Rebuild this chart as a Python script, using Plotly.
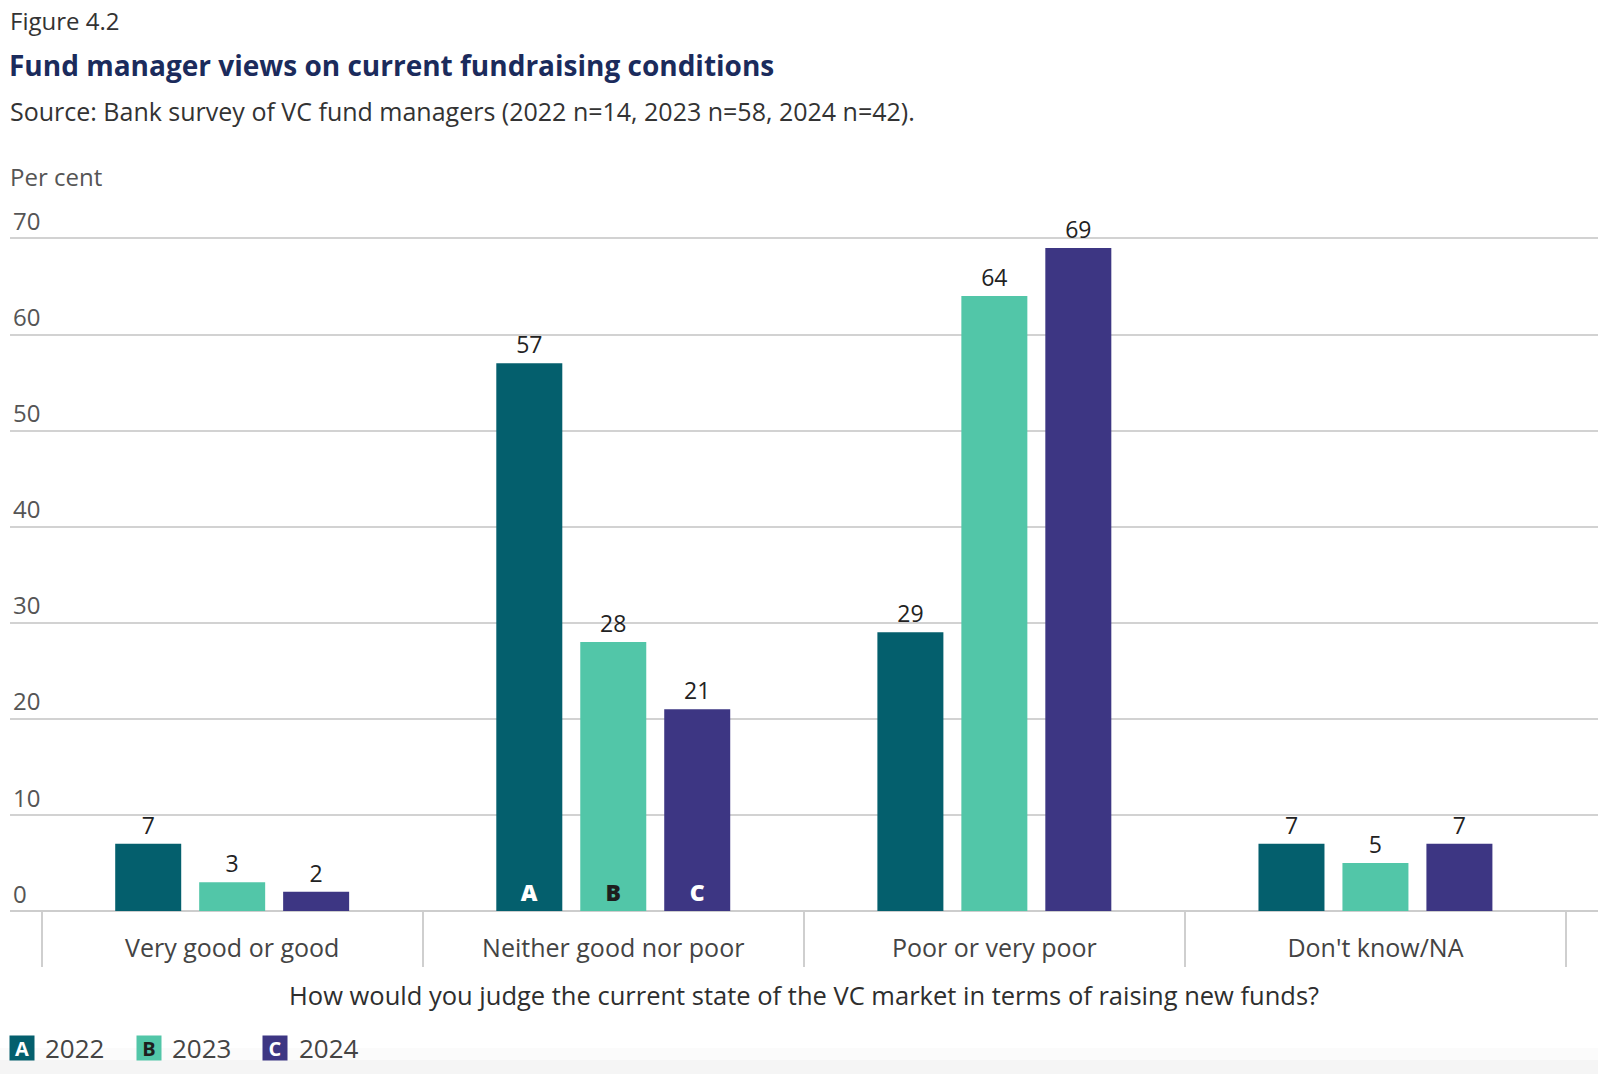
import plotly.graph_objects as go

categories = ["Very good or good", "Neither good nor poor", "Poor or very poor", "Don't know/NA"]
years = ["2022", "2023", "2024"]
v2022 = [7, 57, 29, 7]
v2023 = [3, 28, 64, 5]
v2024 = [2, 21, 69, 7]
letters = ["A", "B", "C"]
letter_category = "Neither good nor poor"
y_ticks = [0, 10, 20, 30, 40, 50, 60, 70]

colors = ["#045F6D", "#52C6A8", "#3D3683"]
letter_colors = ["#FFFFFF", "#1E1E1E", "#FFFFFF"]
FONT = "Open Sans"
W, H = 1598, 1074
YMAX = 74
PL, PR, PB = 10, 1598, 911
PT = PB - YMAX * 9.614  # plot top in pixels (70 gridline at ~238)


def py(y):
    return (PB - y) / (PB - PT)


def px(x):
    return (x - PL) / (PR - PL)


fig = go.Figure()
series = [v2022, v2023, v2024]
for i, (yr, vals) in enumerate(zip(years, series)):
    fig.add_trace(go.Bar(
        x=categories, y=vals, name=yr, offsetgroup=str(i),
        marker=dict(color=colors[i], line=dict(width=0)),
        text=[str(v) for v in vals], textposition="outside",
        textfont=dict(family=FONT, size=23, color="#222222", weight=500),
        cliponaxis=False, showlegend=False, hoverinfo="skip",
    ))
# letter markers inside the bars of one category
for i, (yr, vals) in enumerate(zip(years, series)):
    fig.add_trace(go.Bar(
        x=categories, y=vals, offsetgroup=str(i),
        marker=dict(color="rgba(0,0,0,0)", line=dict(width=0)),
        text=[letters[i] if c == letter_category else "" for c in categories],
        textposition="inside", insidetextanchor="start", textangle=0,
        textfont=dict(family=FONT, size=23, color=letter_colors[i], weight=800),
        showlegend=False, hoverinfo="skip",
    ))

fig.update_layout(
    width=W, height=H, barmode="group", bargap=0.339, bargroupgap=0.214,
    plot_bgcolor="white", paper_bgcolor="white",
    margin=dict(l=PL, r=W - PR, t=PT, b=H - PB, pad=0),
    font=dict(family=FONT, color="#444444"),
)
fig.update_xaxes(
    range=[-0.583, 3.584], showgrid=False, zeroline=False, showline=False,
    ticks="outside", tickson="boundaries", ticklen=55, tickwidth=1.5, tickcolor="#CFCFCF",
    ticklabelstandoff=20,
    tickfont=dict(family=FONT, size=25, color="#444444"),
)
fig.update_yaxes(
    range=[0, YMAX], tickvals=y_ticks, ticktext=[str(t) for t in y_ticks],
    showgrid=True, gridcolor="#D2D2D2", gridwidth=1.5,
    zeroline=True, zerolinecolor="#CDCDCD", zerolinewidth=1.5,
    showline=False, ticks="", ticklabelposition="inside top",
    tickfont=dict(family=FONT, size=24, color="#555555"),
)

ann = []
ann.append(dict(text="Figure 4.2", x=px(8), y=py(20), xanchor="left", yanchor="middle",
                font=dict(family=FONT, size=24, color="#333333")))
ann.append(dict(text="<b>Fund manager views on current fundraising conditions</b>", x=px(7), y=py(64),
                xanchor="left", yanchor="middle", font=dict(family=FONT, size=28, color="#1B2B5C")))
ann.append(dict(text="Source: Bank survey of VC fund managers (2022 n=14, 2023 n=58, 2024 n=42).",
                x=px(8), y=py(111), xanchor="left", yanchor="middle",
                font=dict(family=FONT, size=25, color="#333333")))
ann.append(dict(text="Per cent", x=px(8), y=py(176), xanchor="left", yanchor="middle",
                font=dict(family=FONT, size=24, color="#555555")))
ann.append(dict(text="How would you judge the current state of the VC market in terms of raising new funds?",
                x=0.5, y=py(995), xanchor="center", yanchor="middle",
                font=dict(family=FONT, size=25.5, color="#2E2E2E", weight=500)))
# legend
leg_x = [(21.5, 43), (148.5, 170), (274.5, 297)]
for i, (bx, tx) in enumerate(leg_x):
    ann.append(dict(text="<b>%s</b>" % letters[i], x=px(bx), y=py(1048), xanchor="center", yanchor="middle",
                    width=24, height=24, bgcolor=colors[i], borderpad=0,
                    font=dict(family=FONT, size=20, color=letter_colors[i])))
    ann.append(dict(text=years[i], x=px(tx), y=py(1048), xanchor="left", yanchor="middle",
                    font=dict(family=FONT, size=26, color="#444444")))
for a in ann:
    a.update(xref="paper", yref="paper", showarrow=False)
fig.update_layout(annotations=ann)

fig.add_shape(type="rect", xref="paper", yref="paper", x0=px(0), x1=px(W), y0=py(1048), y1=py(1060),
              fillcolor="#FBFBFB", line=dict(width=0), layer="below")
fig.add_shape(type="rect", xref="paper", yref="paper", x0=px(0), x1=px(W), y0=py(1060), y1=py(1074),
              fillcolor="#F5F5F5", line=dict(width=0), layer="below")

fig.write_html("out.html", config={"displayModeBar": False},
               post_script="document.body.style.margin='0';document.body.style.overflow='hidden';")
